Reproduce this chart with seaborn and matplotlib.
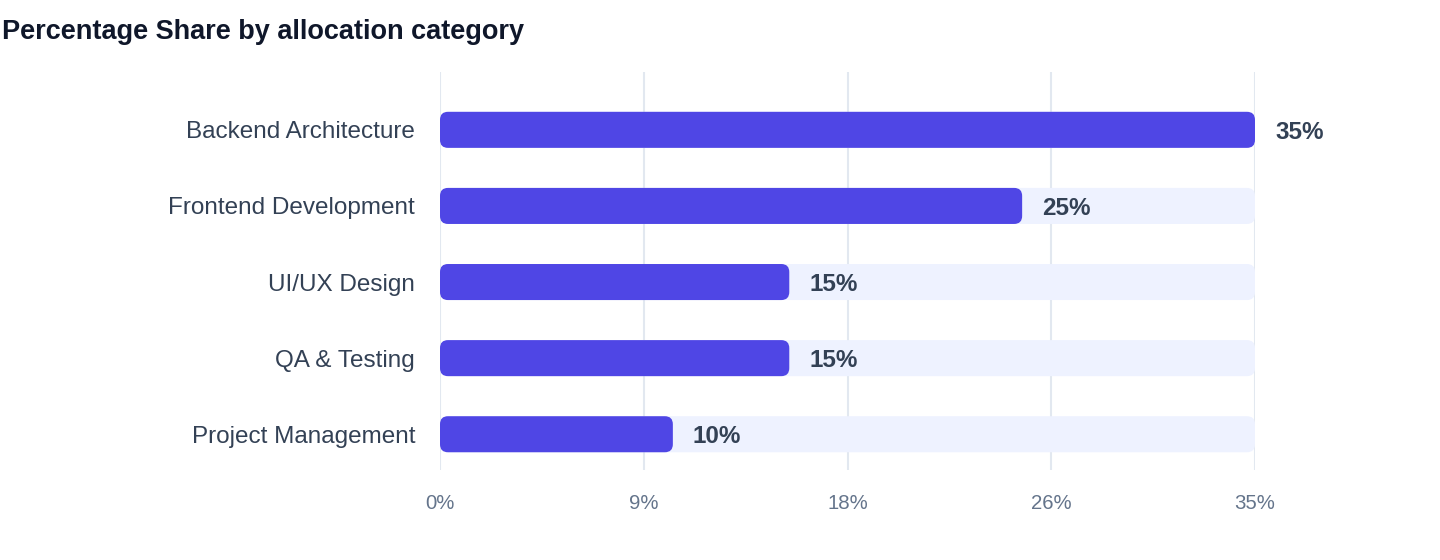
import pandas as pd
import matplotlib
matplotlib.use("Agg")
import matplotlib.pyplot as plt
from matplotlib.patches import FancyBboxPatch
import seaborn as sns

# data
categories = ["Backend Architecture", "Frontend Development", "UI/UX Design",
              "QA & Testing", "Project Management"]
shares = [35, 25, 15, 15, 10]
tick_values = [0, 8.75, 17.5, 26.25, 35]
tick_labels = ["0%", "9%", "18%", "26%", "35%"]

BAR = "#4F46E5"
TRACK = "#EEF2FF"
GRID = "#E2E8F0"
TEXT = "#334155"
MUTED = "#64748B"

sns.set_theme(style="white")
plt.rcParams["font.family"] = ["Liberation Sans", "DejaVu Sans"]

df = pd.DataFrame({"category": categories, "share": shares})
df["track"] = max(shares)

fig = plt.figure(figsize=(14.4, 5.6), dpi=100)
ax = fig.add_axes([440 / 1440, 1 - 470 / 560, 815 / 1440, 398 / 560])

bar_h = 36 / 76
sns.barplot(data=df, y="category", x="track", color=TRACK, width=bar_h,
            saturation=1, orient="h", ax=ax, zorder=2)
sns.barplot(data=df, y="category", x="share", color=BAR, width=bar_h,
            saturation=1, orient="h", ax=ax, zorder=3)

ax.set_xlim(0, 35)
ax.set_ylim(len(categories) - 1 + 0.47, -0.76)

# swap the square bars for rounded ones
px_x = 815 / 35
px_y = 76
r = 8 / px_x
for p in list(ax.patches):
    x0, y0, w, h = p.get_x(), p.get_y(), p.get_width(), p.get_height()
    fc = p.get_facecolor()
    z = p.get_zorder()
    p.set_visible(False)
    ax.add_patch(FancyBboxPatch((x0, y0), w, h,
                                boxstyle=f"round,pad=0,rounding_size={r}",
                                mutation_aspect=px_x / px_y,
                                facecolor=fc, edgecolor="none", zorder=z))

for i, v in enumerate(shares):
    ax.text(v + 20 / px_x, i, f"{v}%", va="center_baseline", ha="left",
            fontsize=17.5, fontweight="bold", color=TEXT, zorder=4)

ax.set_xticks(tick_values)
ax.set_xticklabels(tick_labels)
ax.grid(axis="x", color=GRID, linewidth=1.5, zorder=0)
ax.set_axisbelow(True)
ax.tick_params(axis="x", length=0, pad=17, labelsize=14.7, labelcolor=MUTED)
ax.tick_params(axis="y", length=0, pad=18, labelsize=17.5, labelcolor=TEXT)
ax.set_xlabel("")
ax.set_ylabel("")
sns.despine(ax=ax, left=True, bottom=True)

fig.text(0.0015, 1 - 32 / 560, "Percentage Share by allocation category",
         fontsize=19.5, fontweight="bold", color="#0F172A", va="center", ha="left")

fig.savefig("out.png", dpi=100, facecolor="white")
